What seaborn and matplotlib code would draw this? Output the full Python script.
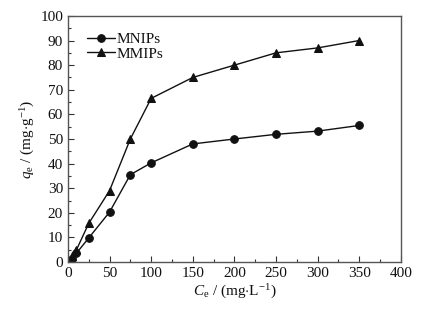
import matplotlib
matplotlib.use("Agg")
import matplotlib.pyplot as plt
import seaborn as sns
import pandas as pd
from matplotlib.ticker import MultipleLocator

ce = [5, 10, 25, 50, 75, 100, 150, 200, 250, 300, 350]
mnips = [1.2, 3.5, 9.8, 20.3, 35.5, 40.3, 48.0, 50.0, 51.9, 53.2, 55.5]
mmips = [2.5, 4.8, 15.7, 29.0, 50.0, 66.5, 75.0, 80.0, 85.0, 87.0, 90.0]
series_names = ["MNIPs", "MMIPs"]

df = pd.DataFrame({
    "Ce": ce * 2,
    "qe": mnips + mmips,
    "series": [series_names[0]] * len(ce) + [series_names[1]] * len(ce),
})

sns.set_theme(style="white")
plt.rcParams["font.family"] = ["Liberation Serif", "DejaVu Serif"]
plt.rcParams["mathtext.fontset"] = "custom"
plt.rcParams["mathtext.it"] = "Liberation Serif:italic"
plt.rcParams["mathtext.rm"] = "Liberation Serif"

fig = plt.figure(figsize=(4.41, 3.12), dpi=100)
ax = fig.add_axes([0.154, 0.160, 0.755, 0.789])

sns.lineplot(data=df, x="Ce", y="qe", hue="series", style="series",
             markers={"MNIPs": "o", "MMIPs": "^"}, dashes=False,
             palette={"MNIPs": "#111111", "MMIPs": "#111111"},
             markersize=5.5, linewidth=1.0, markeredgecolor="#111111",
             ax=ax)
for ln in ax.lines:
    if ln.get_marker() == "^":
        ln.set_markersize(5.8)

ax.set_xlim(0, 400)
ax.set_ylim(0, 100)
ax.xaxis.set_major_locator(MultipleLocator(50))
ax.xaxis.set_minor_locator(MultipleLocator(25))
ax.yaxis.set_major_locator(MultipleLocator(10))
ax.yaxis.set_minor_locator(MultipleLocator(5))
ax.tick_params(which="both", direction="in", bottom=True, left=True,
               top=False, right=False, colors="#333333", labelcolor="#111111",
               labelsize=11)
ax.tick_params(which="major", length=4, width=0.8)
ax.tick_params(which="minor", length=2, width=0.8)
for s in ax.spines.values():
    s.set_color("#555555")
    s.set_linewidth(1.0)

ax.set_xlabel(r"$C_{\rm e}$ / (mg$\cdot$L$^{-1}$)", fontsize=11, color="#111111", labelpad=2)
ax.set_ylabel(r"$q_{\rm e}$ / (mg$\cdot$g$^{-1}$)", fontsize=11, color="#111111", labelpad=2)

leg = ax.legend(loc="upper left", bbox_to_anchor=(0.03, 0.97), frameon=False,
                fontsize=11, handlelength=1.8, handletextpad=0.15,
                labelspacing=0.05, borderaxespad=0.2)
for t in leg.get_texts():
    t.set_color("#111111")
for h in leg.legend_handles:
    if hasattr(h, "get_marker"):
        h.set_markersize(5.8 if h.get_marker() == "^" else 5.5)

fig.savefig("out.png", dpi=100)
